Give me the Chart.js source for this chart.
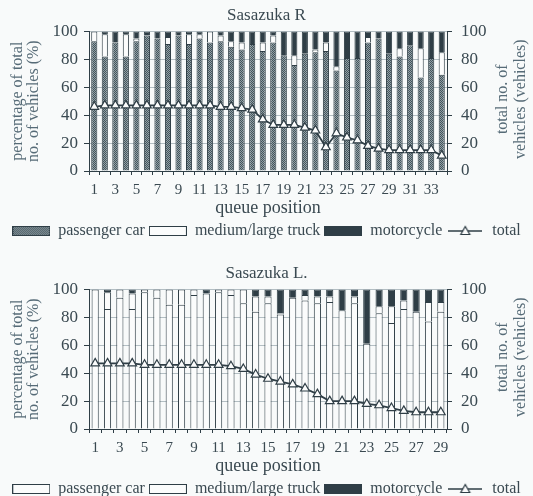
<!DOCTYPE html>
<html lang="en">
<head>
    <meta charset="UTF-8">
    <title>Sasazuka queue composition</title>
    <script src="https://cdn.jsdelivr.net/npm/chart.js"></script>
    <style>
        html, body { margin: 0; width: 533px; height: 496px; overflow: hidden; background: #f8fafa; }
        .box { position: absolute; left: 0; width: 533px; height: 250px; }
        #boxR { top: 0; }
        #boxL { top: 258px; }
    </style>
</head>
<body>
    <div class="box" id="boxR"><canvas id="chartR" width="533" height="250"></canvas></div>
    <div class="box" id="boxL"><canvas id="chartL" width="533" height="250"></canvas></div>
    <script>
        // Sasazuka R (34 queue positions)
        const rPositions = ['1','2','3','4','5','6','7','8','9','10','11','12','13','14','15','16','17',
                            '18','19','20','21','22','23','24','25','26','27','28','29','30','31','32','33','34'];
        const rCar   = [93,82,92,82,93,97,95,91,97,91,95,92,93,89,87,91,86,92,83,76,84,85,86,72,81,81,92,95,84,82,90,67,81,69];
        const rTruck = [ 7,16, 0,16, 2, 0, 0, 5, 0, 7, 3, 8, 4, 4, 5, 0, 6, 5, 0, 7, 0, 2, 6, 3, 0, 0, 4, 0, 0, 6, 0,21, 0,16];
        const rMoto  = [ 0, 2, 8, 2, 5, 3, 5, 4, 3, 2, 2, 0, 3, 7, 8, 9, 8, 3,17,17,16,13, 8,25,19,19, 4, 5,16,12,10,12,19,15];
        const rTotal = [46,47,47,47,47,47,47,47,47,47,47,47,46,46,45,44,37,33,33,33,31,29,17,27,24,22,18,16,15,15,15,15,15,11];

        // Sasazuka L. (29 queue positions)
        const lPositions = ['1','2','3','4','5','6','7','8','9','10','11','12','13','14','15','16','17',
                            '18','19','20','21','22','23','24','25','26','27','28','29'];
        const lCar   = [100,86,94,86,98,94,89,89,96,97,98,96,90,84,90,82,94,92,90,91,85,90,61,83,76,86,84,77,84];
        const lTruck = [  0,12, 6,11, 2, 6,11,11, 4, 0, 2, 4,10,11, 5, 1, 0, 4, 5, 4, 0, 5, 0, 5,12, 6, 0,14, 7];
        const lMoto  = [  0, 2, 0, 3, 0, 0, 0, 0, 0, 3, 0, 0, 0, 5, 5,17, 6, 4, 5, 5,15, 5,39,12,12, 8,16, 9, 9];
        const lTotal = [47,47,47,47,46,46,46,46,46,46,46,45,43,39,36,34,32,29,25,20,20,20,18,17,15,13,12,12,12];

        const legendNames = ['passenger car', 'medium/large truck', 'motorcycle', 'total'];

        const ink = '#2f3e46';
        const textColor = '#3a4951';
        const axisTitleColor = '#566b77';
        const gridColor = '#b3bec3';
        const white = '#fbfcfc';
        const serif = "'Liberation Serif', 'DejaVu Serif', serif";

        Chart.defaults.font.family = serif;
        Chart.defaults.color = textColor;

        // dotted grey fill used for passenger cars in the R chart
        function makeDots() {
            const c = document.createElement('canvas');
            c.width = 2; c.height = 2;
            const g = c.getContext('2d');
            g.fillStyle = '#44545b'; g.fillRect(0, 0, 2, 2);
            g.fillStyle = '#909fa5'; g.fillRect(1, 0, 1, 1); g.fillRect(0, 1, 1, 1);
            return g.createPattern(c, 'repeat');
        }
        const dots = makeDots();

        function legendBox(fill) {
            const c = document.createElement('canvas');
            c.width = 38; c.height = 10;
            const g = c.getContext('2d');
            g.fillStyle = fill; g.fillRect(0, 0, 38, 10);
            g.strokeStyle = ink; g.lineWidth = 1; g.strokeRect(0.5, 0.5, 37, 9);
            return c;
        }
        function legendLine() {
            const c = document.createElement('canvas');
            c.width = 34; c.height = 12;
            const g = c.getContext('2d');
            g.strokeStyle = ink; g.lineWidth = 1.6;
            g.beginPath(); g.moveTo(0, 6); g.lineTo(34, 6); g.stroke();
            g.fillStyle = white; g.lineWidth = 1.2;
            g.beginPath(); g.moveTo(17, 1.5); g.lineTo(21.5, 9.5); g.lineTo(12.5, 9.5); g.closePath();
            g.fill(); g.stroke();
            return c;
        }

        // right axis title, reading bottom to top like the left one
        const rightTitle = {
            id: 'rightTitle',
            afterDraw(chart) {
                const {ctx, chartArea} = chart;
                const cy = (chartArea.top + chartArea.bottom) / 2 - 2;
                ctx.save();
                ctx.fillStyle = axisTitleColor;
                ctx.font = '16px ' + serif;
                ctx.textAlign = 'center';
                ctx.textBaseline = 'middle';
                [['total no. of', 503], ['vehicles (vehicles)', 521]].forEach(([t, x]) => {
                    ctx.save();
                    ctx.translate(x, cy);
                    ctx.rotate(-Math.PI / 2);
                    ctx.fillText(t, 0, 0);
                    ctx.restore();
                });
                ctx.restore();
            }
        };

        function makeChart(id, title, labels, car, truck, moto, total, carFill) {
            const boxes = [legendBox(carFill), legendBox(white), legendBox(ink), legendLine()];
            const barCommon = { borderColor: ink, borderWidth: 1, barPercentage: 0.58, categoryPercentage: 1.0, yAxisID: 'y', order: 2 };
            return new Chart(document.getElementById(id), {
                data: {
                    labels: labels,
                    datasets: [
                        Object.assign({ type: 'bar', label: legendNames[0], data: car, backgroundColor: carFill }, barCommon),
                        Object.assign({ type: 'bar', label: legendNames[1], data: truck, backgroundColor: white }, barCommon),
                        Object.assign({ type: 'bar', label: legendNames[2], data: moto, backgroundColor: ink }, barCommon),
                        {
                            type: 'line', label: legendNames[3], data: total, yAxisID: 'y2', order: 1,
                            borderColor: ink, borderWidth: 1.8,
                            pointStyle: 'triangle', pointRadius: 5, pointBorderWidth: 1.2,
                            pointBackgroundColor: white, pointBorderColor: ink
                        }
                    ]
                },
                options: {
                    responsive: false,
                    animation: false,
                    layout: { padding: { top: 5, bottom: 1, left: 0, right: 0 } },
                    plugins: {
                        title: {
                            display: true, text: title, color: textColor,
                            font: { size: 17, weight: 'normal' },
                            padding: { top: 0, bottom: 6 }
                        },
                        legend: {
                            position: 'bottom',
                            labels: {
                                usePointStyle: true, pointStyleWidth: 38, boxHeight: 10,
                                padding: 4, color: textColor, font: { size: 16 },
                                generateLabels: () => legendNames.map((n, i) => ({
                                    text: n, pointStyle: boxes[i], datasetIndex: i, hidden: false,
                                    lineWidth: 0, fontColor: textColor
                                }))
                            },
                            onClick: null
                        },
                        tooltip: { enabled: false }
                    },
                    scales: {
                        x: {
                            stacked: true,
                            grid: { drawOnChartArea: false, drawTicks: true, tickLength: 4, tickColor: ink },
                            border: { color: ink },
                            ticks: {
                                autoSkip: false, maxRotation: 0, padding: 6, color: textColor, font: { size: 15 },
                                callback: function (value, index) {
                                    return index % 2 === 0 ? this.getLabelForValue(value) : '';
                                }
                            },
                            title: { display: true, text: 'queue position', color: textColor, font: { size: 18 }, padding: 0 },
                            afterFit: (s) => { s.height = 48; }
                        },
                        y: {
                            stacked: true, min: 0, max: 100, position: 'left',
                            grid: { color: gridColor, tickColor: ink, tickLength: 5 },
                            border: { color: ink },
                            ticks: { stepSize: 20, padding: 6, color: textColor, font: { size: 17 } },
                            title: {
                                display: true, text: ['percentage of total', 'no. of vehicles (%)'],
                                color: axisTitleColor, font: { size: 16, lineHeight: 1.0 },
                                padding: { top: 10, bottom: 0 }
                            },
                            afterFit: (s) => { s.width = 89; }
                        },
                        y2: {
                            min: 0, max: 100, position: 'right',
                            grid: { drawOnChartArea: false, tickColor: ink, tickLength: 5 },
                            border: { color: ink },
                            ticks: { stepSize: 20, padding: 9, color: textColor, font: { size: 17 } },
                            afterFit: (s) => { s.width = 86; }
                        }
                    }
                },
                plugins: [rightTitle]
            });
        }

        makeChart('chartR', 'Sasazuka R', rPositions, rCar, rTruck, rMoto, rTotal, dots);
        makeChart('chartL', 'Sasazuka L.', lPositions, lCar, lTruck, lMoto, lTotal, white);
    </script>
</body>
</html>
